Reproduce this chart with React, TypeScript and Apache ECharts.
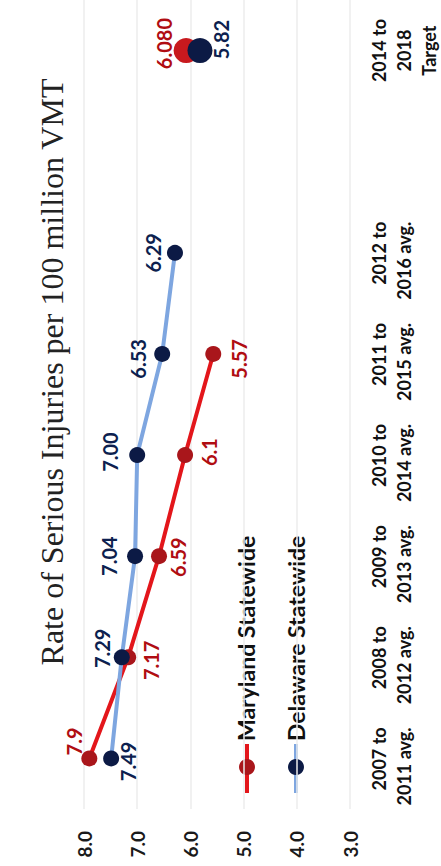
import React, { useEffect, useRef } from "react";
import * as echarts from "echarts";

const categories = [
  "2007 to\n2011 avg.",
  "2008 to\n2012 avg.",
  "2009 to\n2013 avg.",
  "2010 to\n2014 avg.",
  "2011 to\n2015 avg.",
  "2012 to\n2016 avg.",
  "",
  "2014 to\n2018\nTarget",
];
const targetIndex = 7;

const marylandValues = [7.9, 7.17, 6.59, 6.1, 5.57];
const marylandLabels = ["7.9", "7.17", "6.59", "6.1", "5.57"];
const delawareValues = [7.49, 7.29, 7.04, 7.0, 6.53, 6.29];
const delawareLabels = ["7.49", "7.29", "7.04", "7.00", "6.53", "6.29"];
const marylandTarget = 6.08;
const marylandTargetLabel = "6.080";
const delawareTarget = 5.82;
const delawareTargetLabel = "5.82";

const valueMin = 3;
const valueMax = 8;

// label shifts on screen [dx, dy]
const mdLabelShift = [[-15, -17], [23, 3], [19, 1], [24, -3], [26, 5]];
const deLabelShift = [[17, 3], [-20, -9], [-26, 0], [-27, -3], [-24, 5], [-22, 0]];
const mdTargetShift = [-22, -7];
const deTargetShift = [21, -11];

const SANS = "Lato, 'Open Sans', sans-serif";
const MD_LINE = "#e3161b";
const MD_DOT = "#a9161b";
const MD_TEXT = "#b00d12";
const DE_LINE = "#7ea6e0";
const DE_DOT = "#0c1a45";
const DE_TEXT = "#0d1f4f";

function shiftToOffset(s: number[]) {
  // label is rotated 90deg CCW, offset is rotated with it
  return [-s[1], s[0]];
}

function labelFor(text: string, shift: number[], color: string) {
  return {
    show: true,
    position: "inside",
    rotate: 90,
    align: "center",
    verticalAlign: "middle",
    offset: shiftToOffset(shift),
    formatter: () => text,
    color,
    opacity: 1,
    fontFamily: SANS,
    fontWeight: "bold",
    fontSize: 20,
  };
}

export default function App() {
  const ref = useRef<HTMLDivElement>(null);
  useEffect(() => {
    if (!ref.current) return;
    const chart = echarts.init(ref.current, undefined, { renderer: "svg" });
    const option: any = {
      animation: false,
      backgroundColor: "#ffffff",
      grid: { left: 84, right: 88, top: -9, bottom: 57, containLabel: false },
      xAxis: {
        type: "value",
        inverse: true,
        min: valueMin,
        max: valueMax,
        interval: 1,
        axisLine: { show: false },
        axisTick: { show: false },
        splitLine: { show: true, lineStyle: { color: "#ececec", width: 1.5 } },
        axisLabel: {
          rotate: 90,
          margin: 22,
          align: "right",
          verticalAlign: "middle",
          formatter: (v: number) => v.toFixed(1),
          color: "#1a1a1a",
          fontFamily: SANS,
          fontWeight: "bold",
          fontSize: 19,
        },
      },
      yAxis: {
        type: "category",
        position: "right",
        data: categories,
        boundaryGap: true,
        axisLine: { show: false },
        axisTick: { show: false },
        splitLine: { show: false },
        axisLabel: {
          interval: 0,
          rotate: 90,
          margin: 16,
          align: "center",
          verticalAlign: "top",
          color: "#111",
          fontFamily: SANS,
          fontWeight: "bold",
          fontSize: 18,
          lineHeight: 25,
          formatter: (val: string, idx: number) => {
            if (!val) return "";
            const lines = val.split("\n");
            const tag = idx === targetIndex ? "c" : "r";
            return lines.map((l) => `{${tag}|${l}}`).join("\n");
          },
          rich: {
            r: {
              align: "right",
              padding: [0, 16, 0, 0],
              fontFamily: SANS,
              fontWeight: "bold",
              fontSize: 18,
              lineHeight: 25,
              color: "#111",
            },
            c: {
              align: "center",
              fontFamily: SANS,
              fontWeight: "bold",
              fontSize: 18,
              lineHeight: 25,
              color: "#111",
            },
          },
        },
      },
      series: [
        {
          name: "Maryland Statewide",
          type: "line",
          z: 2,
          data: marylandValues.map((v, i) => ({
            value: [v, categories[i]],
            label: labelFor(marylandLabels[i], mdLabelShift[i], MD_TEXT),
          })),
          symbol: "circle",
          symbolSize: 16,
          lineStyle: { color: MD_LINE, width: 4 },
          itemStyle: { color: MD_DOT },
        },
        {
          name: "Delaware Statewide",
          type: "line",
          z: 3,
          data: delawareValues.map((v, i) => ({
            value: [v, categories[i]],
            label: labelFor(delawareLabels[i], deLabelShift[i], DE_TEXT),
          })),
          symbol: "circle",
          symbolSize: 16,
          lineStyle: { color: DE_LINE, width: 4 },
          itemStyle: { color: DE_DOT },
        },
        {
          name: "Maryland Target",
          type: "scatter",
          z: 4,
          symbolSize: 25,
          itemStyle: { color: "#c8191e", opacity: 1 },
          data: [
            {
              value: [marylandTarget, categories[targetIndex]],
              label: labelFor(marylandTargetLabel, mdTargetShift, MD_TEXT),
            },
          ],
        },
        {
          name: "Delaware Target",
          type: "scatter",
          z: 5,
          symbolSize: 25,
          itemStyle: { color: DE_DOT, opacity: 1 },
          data: [
            {
              value: [delawareTarget, categories[targetIndex]],
              label: labelFor(delawareTargetLabel, deTargetShift, DE_TEXT),
            },
          ],
        },
      ],
      graphic: [
        {
          type: "text",
          x: 52,
          y: 372,
          rotation: Math.PI / 2,
          style: {
            text: "Rate of Serious Injuries per 100 million VMT",
            font: "32px 'Liberation Serif', 'Times New Roman', serif",
            fill: "#222",
            align: "center",
            verticalAlign: "middle",
            textAlign: "center",
            textVerticalAlign: "middle",
          },
        },
        {
          type: "line",
          shape: { x1: 247, y1: 744, x2: 247, y2: 793 },
          style: { stroke: MD_LINE, lineWidth: 4 },
        },
        { type: "circle", shape: { cx: 247, cy: 767, r: 8 }, style: { fill: MD_DOT } },
        {
          type: "text",
          x: 246,
          y: 741,
          rotation: Math.PI / 2,
          style: {
            text: "Maryland Statewide",
            font: `bold 23px ${SANS}`,
            fill: "#111",
            align: "left",
            verticalAlign: "middle",
            textAlign: "left",
            textVerticalAlign: "middle",
          },
        },
        {
          type: "line",
          shape: { x1: 296, y1: 744, x2: 296, y2: 793 },
          style: { stroke: DE_LINE, lineWidth: 4 },
        },
        { type: "circle", shape: { cx: 296, cy: 767, r: 8 }, style: { fill: DE_DOT } },
        {
          type: "text",
          x: 296,
          y: 741,
          rotation: Math.PI / 2,
          style: {
            text: "Delaware Statewide",
            font: `bold 23px ${SANS}`,
            fill: "#111",
            align: "left",
            verticalAlign: "middle",
            textAlign: "left",
            textVerticalAlign: "middle",
          },
        },
      ],
    };
    chart.setOption(option);
    return () => chart.dispose();
  }, []);
  return (
    <div
      ref={ref}
      style={{ position: "fixed", left: 0, top: 0, width: 441, height: 866, background: "#fff" }}
    />
  );
}
